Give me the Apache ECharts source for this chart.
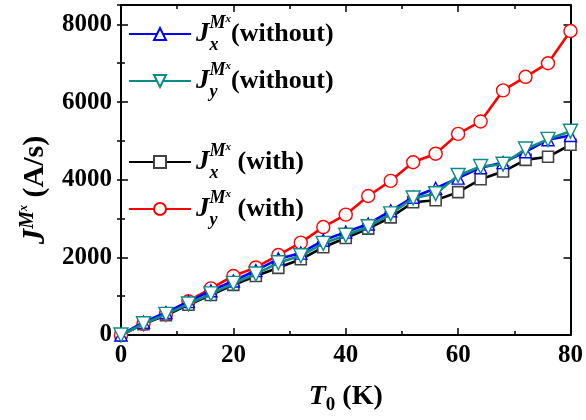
<!DOCTYPE html>
<html>
<head>
<meta charset="utf-8">
<script src="https://cdn.jsdelivr.net/npm/echarts@6/dist/echarts.min.js"></script>
<style>
  html, body { margin: 0; padding: 0; background: #fff; }
  #chart { width: 586px; height: 420px; }
</style>
</head>
<body>
<div id="chart"></div>
<script>
// Temperature T0 (K)
const temperature = [0, 4, 8, 12, 16, 20, 24, 28, 32, 36, 40, 44, 48, 52, 56, 60, 64, 68, 72, 76, 80];

// Current J^{Mx} (A/s) for each case
const jxWithout = [0, 330, 580, 860, 1140, 1390, 1660, 1960, 2110, 2440, 2650, 2860, 3200, 3550, 3780, 4040, 4310, 4440, 4720, 5030, 5140];
const jyWithout = [0, 290, 530, 800, 1060, 1330, 1570, 1860, 2040, 2360, 2570, 2790, 3120, 3530, 3640, 4110, 4340, 4400, 4790, 5040, 5250];
const jxWith    = [0, 280, 510, 780, 1030, 1290, 1520, 1730, 1950, 2260, 2500, 2740, 3030, 3420, 3470, 3680, 4010, 4210, 4510, 4590, 4900];
const jyWith    = [0, 290, 540, 870, 1200, 1520, 1740, 2060, 2380, 2780, 3100, 3580, 3970, 4450, 4670, 5180, 5500, 6300, 6650, 7000, 7830];

const xTicks = [0, 20, 40, 60, 80];
const yTicks = [0, 2000, 4000, 6000, 8000];

const SERIF = 'Liberation Serif, Times New Roman, serif';

function pairs(xs, ys) {
  return xs.map((x, i) => [x, ys[i]]);
}

// Rich-text pieces for J with stacked sub/superscripts
const legendRich = {
  J:   { fontFamily: SERIF, fontSize: 27, fontWeight: 'bold', fontStyle: 'italic', color: '#000', lineHeight: 40, verticalAlign: 'middle' },
  sb:  { fontFamily: SERIF, fontSize: 18, fontWeight: 'bold', fontStyle: 'italic', color: '#000', lineHeight: 14, verticalAlign: 'bottom', width: 0 },
  sp:  { fontFamily: SERIF, fontSize: 18, fontWeight: 'bold', fontStyle: 'italic', color: '#000', lineHeight: 22, verticalAlign: 'top' },
  spx: { fontFamily: SERIF, fontSize: 11, fontWeight: 'bold', fontStyle: 'italic', color: '#000', lineHeight: 30, verticalAlign: 'top' },
  t:   { fontFamily: SERIF, fontSize: 26, fontWeight: 'bold', color: '#000', lineHeight: 40, verticalAlign: 'middle' }
};

const legendLabels = {
  'Jx without': '{J|J}{sb|x}{sp|M}{spx|x}{t|(without)}',
  'Jy without': '{J|J}{sb|y}{sp|M}{spx|x}{t|(without)}',
  'Jx with':    '{J|J}{sb|x}{sp|M}{spx|x}{t| (with)}',
  'Jy with':    '{J|J}{sb|y}{sp|M}{spx|x}{t| (with)}'
};

function legendBlock(names, top) {
  return {
    data: names,
    orient: 'vertical',
    left: 128,
    top: top,
    padding: 0,
    itemWidth: 62,
    itemHeight: 15,
    itemGap: 7,
    selectedMode: false,
    formatter: name => legendLabels[name],
    textStyle: { rich: legendRich }
  };
}

const labelFont = { fontFamily: SERIF, fontSize: 25, fontWeight: 'bold', color: '#000' };
const frameLine = { show: true, onZero: false, lineStyle: { color: '#000', width: 2 } };

function xAxisCfg(position, labelled) {
  return {
    type: 'value', position: position, min: 0, max: 80, interval: 20,
    axisLine: frameLine,
    axisTick: { show: true, inside: true, length: 7, lineStyle: { color: '#000', width: 1.5 } },
    minorTick: { show: true, splitNumber: 2, length: 4, lineStyle: { color: '#000', width: 1.5 } },
    splitLine: { show: false },
    axisLabel: labelled ? Object.assign({ margin: 8 }, labelFont) : { show: false },
    name: labelled ? '{T|T}{s|0}{t| (K)}' : '',
    nameLocation: 'middle',
    nameGap: 44,
    nameTextStyle: {
      rich: {
        T: { fontFamily: SERIF, fontSize: 28, fontWeight: 'bold', fontStyle: 'italic', color: '#000', lineHeight: 36, verticalAlign: 'middle' },
        s: { fontFamily: SERIF, fontSize: 19, fontWeight: 'bold', color: '#000', lineHeight: 16, verticalAlign: 'bottom' },
        t: { fontFamily: SERIF, fontSize: 28, fontWeight: 'bold', color: '#000', lineHeight: 36, verticalAlign: 'middle' }
      }
    }
  };
}

function yAxisCfg(position, major, labelled) {
  return {
    type: 'value', position: position, min: 0, max: 8500,
    interval: major ? 2000 : 1000,
    axisLine: major ? frameLine : { show: false },
    axisTick: { show: true, inside: true, length: major ? 7 : 4, lineStyle: { color: '#000', width: 1.5 } },
    splitLine: { show: false },
    axisLabel: labelled ? Object.assign({
      margin: 9,
      formatter: v => (yTicks.indexOf(v) >= 0 ? String(v) : '')
    }, labelFont) : { show: false },
    name: labelled ? '{J|J}{sp|M}{spx|x}{t| (A/s)}' : '',
    nameLocation: 'middle',
    nameRotate: 90,
    nameGap: 67,
    nameTextStyle: {
      padding: [0, 40, 0, 0],
      rich: {
        J:   { fontFamily: SERIF, fontSize: 31, fontWeight: 'bold', fontStyle: 'italic', color: '#000', lineHeight: 36, verticalAlign: 'middle' },
        sp:  { fontFamily: SERIF, fontSize: 20, fontWeight: 'bold', fontStyle: 'italic', color: '#000', lineHeight: 20, verticalAlign: 'top' },
        spx: { fontFamily: SERIF, fontSize: 12, fontWeight: 'bold', fontStyle: 'italic', color: '#000', lineHeight: 28, verticalAlign: 'top' },
        t:   { fontFamily: SERIF, fontSize: 30, fontWeight: 'bold', color: '#000', lineHeight: 36, verticalAlign: 'middle' }
      }
    }
  };
}

function lineSeries(name, ys, color, symbol, size, extra, z) {
  return Object.assign({
    name: name,
    type: 'line',
    data: pairs(temperature, ys),
    symbol: symbol,
    symbolSize: size,
    showAllSymbol: true,
    z: z,
    lineStyle: { color: color, width: 2.6 },
    itemStyle: { color: '#fff', borderColor: color, borderWidth: 1.4 },
    emphasis: { disabled: true }
  }, extra || {});
}

const chart = echarts.init(document.getElementById('chart'), null, { renderer: 'canvas' });

chart.setOption({
  animation: false,
  backgroundColor: '#fff',
  grid: { left: 121, right: 13, top: 5, bottom: 82, containLabel: false },
  legend: [
    legendBlock(['Jx without', 'Jy without'], 14),
    legendBlock(['Jx with', 'Jy with'], 142)
  ],
  xAxis: [xAxisCfg('bottom', true), xAxisCfg('top', false)],
  yAxis: [
    yAxisCfg('left', true, true),
    yAxisCfg('left', false, false),
    yAxisCfg('right', true, false),
    yAxisCfg('right', false, false)
  ],
  series: [
    lineSeries('Jx with', jxWith, '#000000', 'rect', 11, { itemStyle: { color: '#fff', borderColor: '#444', borderWidth: 1.6 } }, 2),
    lineSeries('Jy with', jyWith, '#ff0000', 'circle', 13, null, 3),
    lineSeries('Jx without', jxWithout, '#0000ff', 'triangle', 12, null, 4),
    lineSeries('Jy without', jyWithout, '#0f8a8a', 'triangle', 14, { symbolRotate: 180 }, 5)
  ]
});
</script>
</body>
</html>
